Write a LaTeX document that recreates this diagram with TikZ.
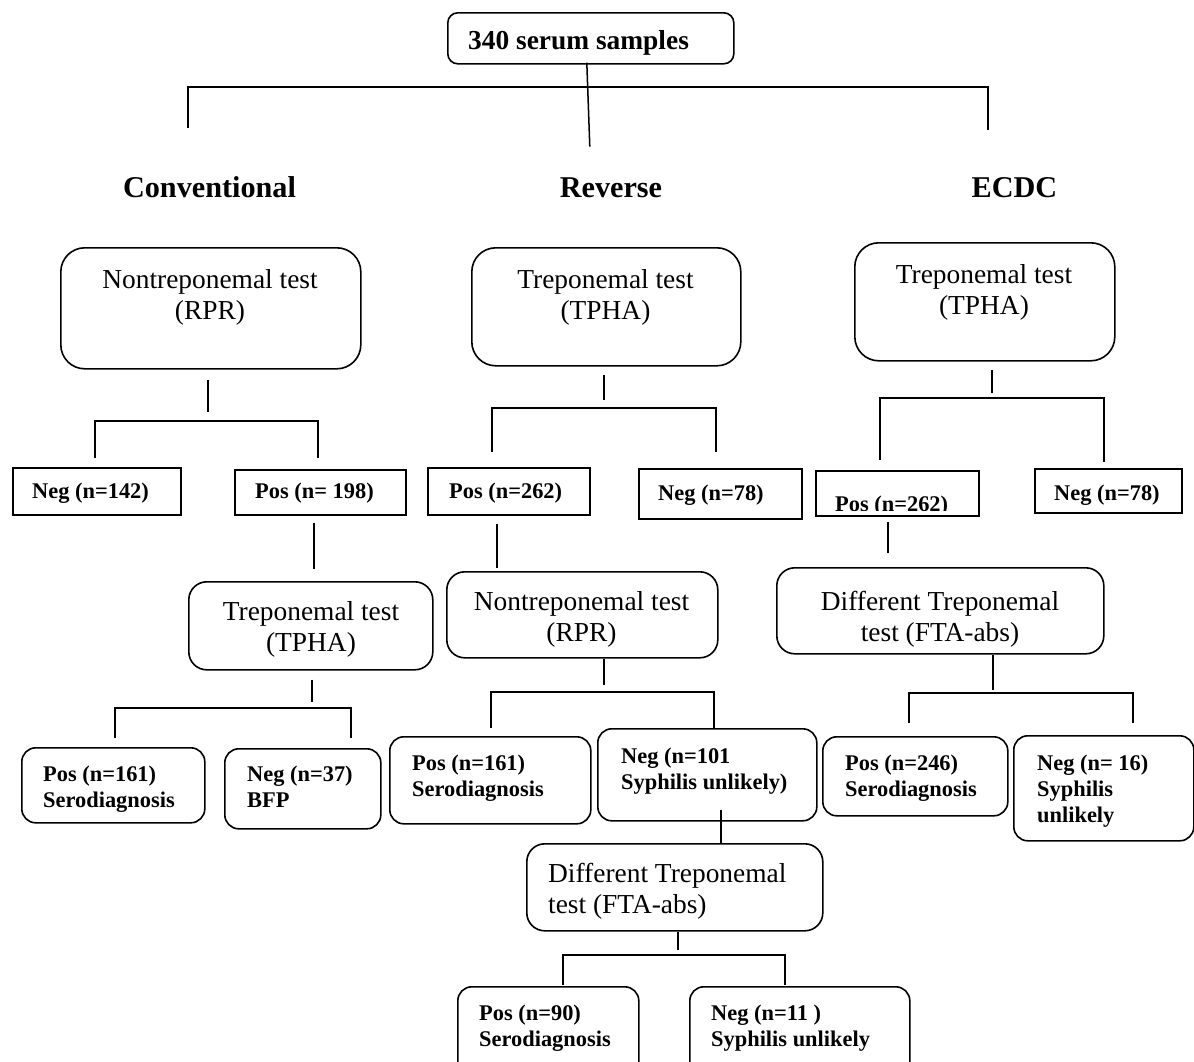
\documentclass[tikz,border=0pt]{standalone}
\usepackage{fontspec}
\setmainfont{Liberation Serif}
\usetikzlibrary{calc}
\tikzset{
  rbox/.style={draw, line width=1.6pt, rounded corners=#1, inner sep=0pt, anchor=north west},
  rbox/.default=16pt,
  sbox/.style={draw, line width=1.6pt, inner sep=0pt, anchor=north west},
  ttxt/.style={font=\fontsize{27.4}{31}\selectfont, inner sep=0pt, align=center, anchor=base},
  ltxt/.style={font=\fontsize{27.4}{31}\selectfont, inner sep=0pt, align=left, anchor=base west},
  btxt/.style={font=\bfseries\fontsize{22.4}{26}\selectfont, inner sep=0pt, align=left, anchor=base west},
  headtxt/.style={font=\bfseries\fontsize{30.2}{34}\selectfont, inner sep=0pt, anchor=base},
  conn/.style={line width=1.5pt},
}
\begin{document}
\begin{tikzpicture}[x=1pt,y=-1pt]
\useasboundingbox (0,0) rectangle (1194,1061);
\clip (0,0) rectangle (1194,1061);

% top
\node[rbox=10pt, minimum width=286pt, minimum height=51pt] (top) at (447,12) {};
\node[font=\bfseries\fontsize{27.4}{31}\selectfont, inner sep=0pt, anchor=base west] (toptxt) at (468,49) {340 serum samples};

% headings
\node[headtxt] (hc) at (209.5,197) {Conventional};
\node[headtxt] (hr) at (611,197) {Reverse};
\node[headtxt] (he) at (1014.5,197) {ECDC};

\draw[conn] ($(top.south)+(-4,-2)$) -- ($(top.south)+(-1,82)$);
\draw[conn] ($(hc.base)+(-21.5,-69)$) |- ($(he.base)+(-26.5,-110)$) -- ($(he.base)+(-26.5,-67)$);

% ---------------- Conventional ----------------
\node[rbox=24pt, minimum width=300pt, minimum height=121pt] (c1) at (60,247) {};
\node[ttxt] (c1t) at (210,319) {Nontreponemal test\\(RPR)};
\node[sbox, minimum width=168pt, minimum height=47pt] (cneg) at (12,467) {};
\node[btxt] (cnegt) at (32,498) {Neg (n=142)};
\node[sbox, minimum width=171pt, minimum height=45pt] (cpos) at (234,469) {};
\node[btxt] (cpost) at (255,498) {Pos (n= 198)};
\node[rbox=18pt, minimum width=244pt, minimum height=88pt] (c2) at (188,581) {};
\node[ttxt] (c2t) at (311,651) {Treponemal test\\(TPHA)};
\node[rbox=14pt, minimum width=183pt, minimum height=75pt] (c3) at (21,747) {};
\node[btxt] (c3t) at (43,807) {Pos (n=161)\\Serodiagnosis};
\node[rbox=14pt, minimum width=156pt, minimum height=80pt] (c4) at (224,748) {};
\node[btxt] (c4t) at (247,807) {Neg (n=37)\\BFP};

\draw[conn] ($(c1.south)+(-3,10)$) -- ++(0,32);
\draw[conn] ($(cneg.north)+(-2,-9)$) |- ($(cpos.north)+(-2.5,-48)$) -- ($(cpos.north)+(-2.5,-11)$);
\draw[conn] ($(cpos.south)+(-6.5,7)$) -- ++(0,46);
\draw[conn] ($(c2.south)+(1,9)$) -- ++(0,22);
\draw[conn] ($(c3.north)+(1.5,-9)$) |- ($(c4.north)+(48,-40)$) -- ($(c4.north)+(48,-10)$);

% ---------------- Reverse ----------------
\node[rbox=24pt, minimum width=269pt, minimum height=118pt] (r1) at (471,247) {};
\node[ttxt] (r1t) at (605.5,319) {Treponemal test\\(TPHA)};
\node[sbox, minimum width=162pt, minimum height=47pt] (rpos) at (427,467) {};
\node[btxt] (rpost) at (449,498) {Pos (n=262)};
\node[sbox, minimum width=163pt, minimum height=50pt] (rneg) at (638,468) {};
\node[btxt] (rnegt) at (658,500) {Neg (n=78)};
\node[rbox=18pt, minimum width=271pt, minimum height=86pt] (r2) at (446,571) {};
\node[ttxt] (r2t) at (581.5,641) {Nontreponemal test\\(RPR)};
\node[rbox=14pt, minimum width=201pt, minimum height=87pt] (r3) at (389,736) {};
\node[btxt] (r3t) at (412,796) {Pos (n=161)\\Serodiagnosis};
\node[rbox=14pt, minimum width=219pt, minimum height=92pt] (r4) at (597,728) {};
\node[btxt] (r4t) at (621,789) {Neg (n=101\\Syphilis unlikely)};
\node[rbox=18pt, minimum width=296pt, minimum height=87pt] (r5) at (526,843) {};
\node[ltxt] (r5t) at (548,913) {Different Treponemal\\test (FTA-abs)};
\node[rbox=14pt, minimum width=181pt, minimum height=110pt] (r6) at (457,986) {};
\node[btxt] (r6t) at (479,1046) {Pos (n=90)\\Serodiagnosis};
\node[rbox=14pt, minimum width=220pt, minimum height=110pt] (r7) at (689,986) {};
\node[btxt] (r7t) at (711,1046) {Neg (n=11 )\\Syphilis unlikely};

\draw[conn] ($(r1.south)+(-2.5,8)$) -- ++(0,25);
\draw[conn] ($(rpos.north)+(-17,-15)$) |- ($(rneg.north)+(-4.5,-60)$) -- ($(rneg.north)+(-4.5,-16)$);
\draw[conn] ($(rpos.south)+(-12,8)$) -- ++(0,44);
\draw[conn] ($(r2.south)+(21.5,0)$) -- ++(0,26);
\draw[conn] ($(r3.north)+(0.5,-8)$) |- ($(r4.north)+(6.5,-36)$) -- ($(r4.north)+(6.5,0)$);
\draw[conn] ($(r4.south)+(13.5,-12)$) -- ++(0,34);
\draw[conn] ($(r5.south)+(3,0)$) -- ++(0,18);
\draw[conn] ($(r6.north)+(14.5,-1)$) |- ($(r7.north)+(-15,-31)$) -- ($(r7.north)+(-15,-1)$);

% ---------------- ECDC ----------------
\node[rbox=24pt, minimum width=260pt, minimum height=118pt] (e1) at (854,242) {};
\node[ttxt] (e1t) at (984,314) {Treponemal test\\(TPHA)};
\node[sbox, minimum width=163pt, minimum height=45pt] (epos) at (815,470) {};
\begin{scope}
  \clip (epos.north west) rectangle ($(epos.south east)+(0,-6)$);
  \node[btxt] (epost) at (835,511) {Pos (n=262)};
\end{scope}
\node[sbox, minimum width=147pt, minimum height=44pt] (eneg) at (1034,468) {};
\node[btxt] (enegt) at (1054,500) {Neg (n=78)};
\node[rbox=18pt, minimum width=327pt, minimum height=86pt] (e2) at (776,567) {};
\node[ttxt] (e2t) at (940,641) {Different Treponemal\\test (FTA-abs)};
\node[rbox=14pt, minimum width=185pt, minimum height=79pt] (e3) at (822,736) {};
\node[btxt] (e3t) at (845,796) {Pos (n=246)\\Serodiagnosis};
\node[rbox=14pt, minimum width=180pt, minimum height=105pt] (e4) at (1013,735) {};
\node[btxt] (e4t) at (1037,822) {Neg (n= 16)\\Syphilis\\unlikely};

\draw[conn] ($(e1.south)+(7,8)$) -- ++(0,23);
\draw[conn] ($(epos.north)+(-17.5,-10)$) |- ($(eneg.north)+(-4.5,-70)$) -- ($(eneg.north)+(-4.5,-6)$);
\draw[conn] ($(epos.south)+(-9.5,5)$) -- ++(0,31);
\draw[conn] ($(e2.south)+(52.5,0)$) -- ++(0,35);
\draw[conn] ($(e3.north)+(-6.5,-13)$) |- ($(e4.north)+(29,-42)$) -- ($(e4.north)+(29,-12)$);
\end{tikzpicture}
\end{document}
